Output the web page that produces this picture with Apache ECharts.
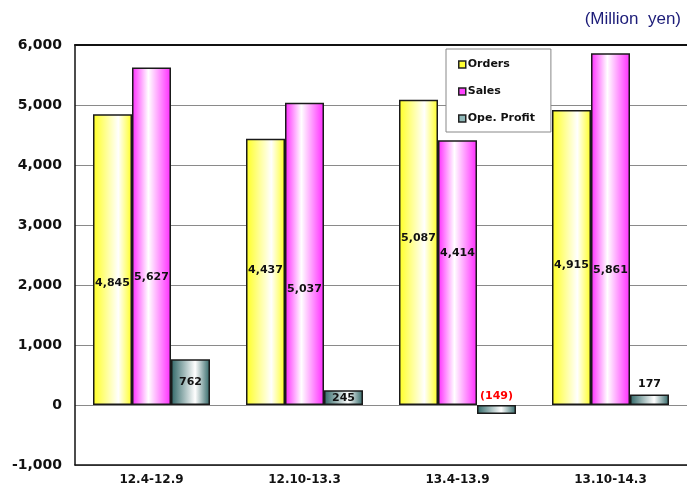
<!DOCTYPE html>
<html>
<head>
<meta charset="utf-8">
<script src="https://cdn.jsdelivr.net/npm/echarts@6/dist/echarts.min.js"></script>
<style>
  html, body { margin: 0; padding: 0; background: #fff; }
  #chart { width: 687px; height: 490px; }
</style>
</head>
<body>
<div id="chart"></div>
<script>
// Half-year periods and results (million yen)
const periods = ['12.4-12.9', '12.10-13.3', '13.4-13.9', '13.10-14.3'];
const orders = [4845, 4437, 5087, 4915];
const sales = [5627, 5037, 4414, 5861];
const opeProfit = [762, 245, -149, 177];

// Vertical nudges for the in-bar value labels (pixels)
const ordersLabelShift = [23, -2, -14, 8];
const salesLabelShift = [41, 35, -19, 41];

const FONT = 'DejaVu Sans';

function barGradient(edge, mid, stop) {
  return new echarts.graphic.LinearGradient(0, 0, 1, 0, [
    { offset: 0, color: edge },
    { offset: stop, color: mid },
    { offset: 1, color: edge }
  ]);
}

function fmt(v) {
  return v < 0 ? '(' + Math.abs(v).toLocaleString('en-US') + ')' : v.toLocaleString('en-US');
}

const labelBase = {
  show: true,
  fontFamily: FONT,
  fontWeight: 'bold',
  fontSize: 11,
  color: '#111'
};

const barBorder = { borderColor: '#1a1a1a', borderWidth: 1.5 };

const chart = echarts.init(document.getElementById('chart'), null, { renderer: 'canvas' });

chart.setOption({
  animation: false,
  backgroundColor: '#ffffff',
  title: {
    text: '(Million  yen)',
    right: 1,
    top: 6,
    textStyle: { fontFamily: 'Liberation Sans', fontWeight: 'normal', fontSize: 17, color: '#1c1c78' }
  },
  legend: {
    orient: 'vertical',
    left: 446,
    top: 49,
    padding: [9, 16, 7, 12],
    itemGap: 14,
    itemWidth: 7,
    itemHeight: 7,
    backgroundColor: '#ffffff',
    borderColor: '#888',
    borderWidth: 1,
    icon: 'rect',
    textStyle: { fontFamily: FONT, fontWeight: 'bold', fontSize: 11, color: '#111', lineHeight: 13, padding: [0, 0, 0, -3] },
    data: [
      { name: 'Orders', itemStyle: { color: '#ffff33', borderColor: '#222', borderWidth: 1.5 } },
      { name: 'Sales', itemStyle: { color: '#ff44ff', borderColor: '#222', borderWidth: 1.5 } },
      { name: 'Ope. Profit', itemStyle: { color: '#8fb8b8', borderColor: '#222', borderWidth: 1.5 } }
    ]
  },
  grid: { left: 75, width: 616, top: 45, bottom: 25 },
  xAxis: [
    {
      type: 'category',
      data: periods,
      axisLine: { onZero: false, lineStyle: { color: '#111', width: 1.5 } },
      axisTick: { show: false },
      axisLabel: { fontFamily: FONT, fontWeight: 'bold', fontSize: 12, color: '#111', margin: 9 }
    },
    {
      type: 'category',
      position: 'top',
      data: periods,
      axisLine: { onZero: false, lineStyle: { color: '#111', width: 2 } },
      axisTick: { show: false },
      axisLabel: { show: false }
    }
  ],
  yAxis: {
    type: 'value',
    min: -1000,
    max: 6000,
    interval: 1000,
    axisLine: { show: true, lineStyle: { color: '#111', width: 1.5 } },
    axisTick: { show: false },
    axisLabel: {
      fontFamily: FONT, fontWeight: 'bold', fontSize: 14, color: '#111', margin: 13,
      formatter: v => v.toLocaleString('en-US')
    },
    splitLine: { show: true, lineStyle: { color: '#8a8a8a', width: 1 } }
  },
  series: [
    {
      name: 'Orders',
      type: 'bar',
      barWidth: 39,
      barGap: '0%',
      itemStyle: Object.assign({ color: barGradient('#ffff22', '#ffffff', 0.65) }, barBorder),
      data: orders.map((v, i) => ({
        value: v,
        label: Object.assign({}, labelBase, { position: 'inside', offset: [0, ordersLabelShift[i]], formatter: p => fmt(p.value) })
      }))
    },
    {
      name: 'Sales',
      type: 'bar',
      barWidth: 39,
      barGap: '0%',
      itemStyle: Object.assign({ color: barGradient('#ff2aff', '#ffffff', 0.42) }, barBorder),
      data: sales.map((v, i) => ({
        value: v,
        label: Object.assign({}, labelBase, { position: 'inside', offset: [0, salesLabelShift[i]], formatter: p => fmt(p.value) })
      }))
    },
    {
      name: 'Ope. Profit',
      type: 'bar',
      barWidth: 39,
      barGap: '0%',
      itemStyle: Object.assign({ color: barGradient('#2f6666', '#ffffff', 0.62) }, barBorder),
      data: opeProfit.map(v => ({
        value: v,
        label: Object.assign({}, labelBase, {
          position: v < 200 ? 'top' : 'inside',
          distance: v < 0 ? 3 : 5,
          color: v < 0 ? '#ff0000' : '#111',
          formatter: p => fmt(p.value)
        })
      }))
    }
  ]
});
</script>
</body>
</html>
